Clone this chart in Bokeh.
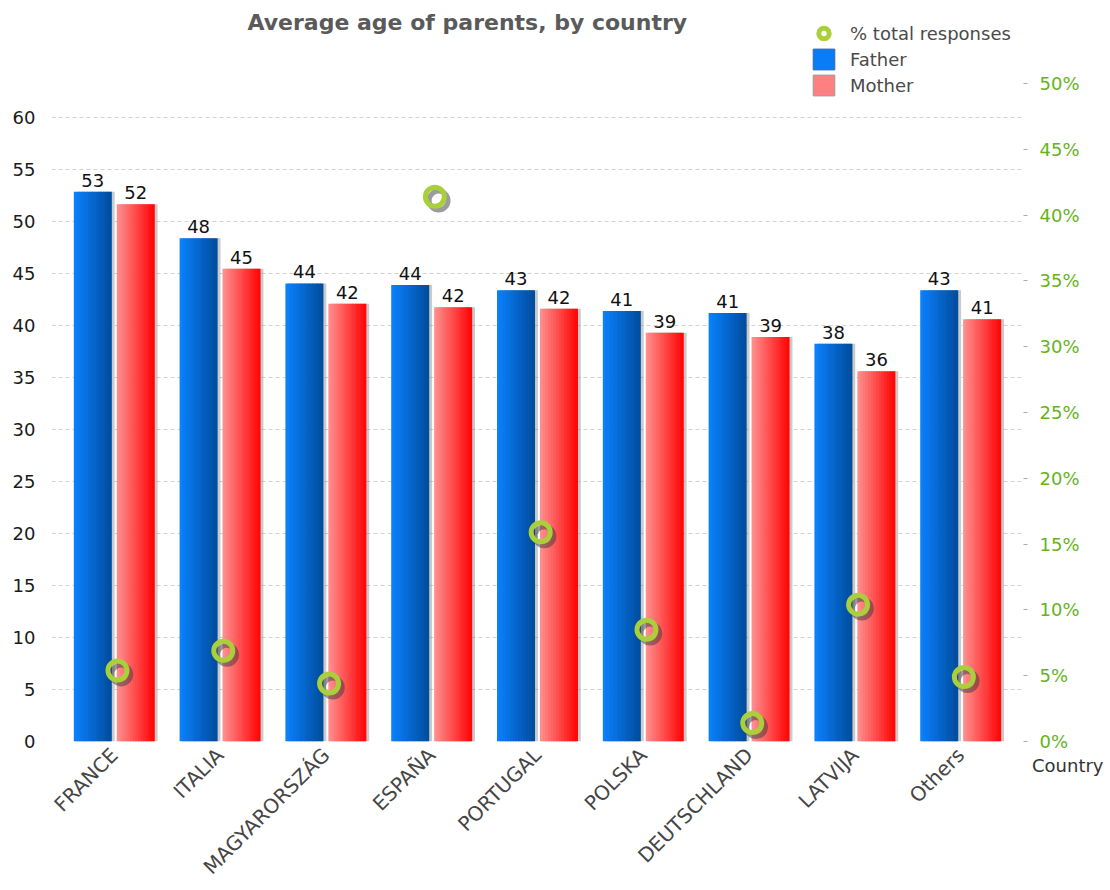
import math
from bokeh.plotting import figure
from bokeh.models import (FactorRange, Range1d, LinearAxis, FixedTicker, NumeralTickFormatter,
                          ColumnDataSource, Label, Legend, LegendItem, Title)
from bokeh.transform import dodge
from bokeh.core.properties import value
from bokeh.embed import file_html
from bokeh.resources import INLINE

# ---------------- data ----------------
countries = ["FRANCE", "ITALIA", "MAGYARORSZÁG", "ESPAÑA", "PORTUGAL",
             "POLSKA", "DEUTSCHLAND", "LATVIJA", "Others"]
father = [52.85, 48.4, 44.05, 43.9, 43.4, 41.4, 41.2, 38.25, 43.4]
mother = [51.65, 45.45, 42.1, 41.75, 41.6, 39.3, 38.9, 35.6, 40.6]
pct_responses = [0.054, 0.069, 0.044, 0.414, 0.159, 0.085, 0.014, 0.104, 0.049]
left_ticks = [0, 5, 10, 15, 20, 25, 30, 35, 40, 45, 50, 55, 60]
right_ticks = [0, 0.05, 0.10, 0.15, 0.20, 0.25, 0.30, 0.35, 0.40, 0.45, 0.50]

title_text = "Average age of parents, by country"
legend_labels = ["% total responses", "Father", "Mother"]
x_title = "Country"

# ---------------- geometry ----------------
W, H = 1110, 890
FL, FR, FT, FB = 51, 1023, 8, 741
left_px_per_unit = 10.4
right_px_per_unit = 1316.0
FONT = "DejaVu Sans"

src = ColumnDataSource(dict(
    country=countries,
    father=father,
    mother=mother,
    pct=pct_responses,
    father_lbl=[str(round(v)) for v in father],
    mother_lbl=[str(round(v)) for v in mother],
))

p = figure(
    width=W, height=H,
    x_range=FactorRange(factors=countries, range_padding=0.0935, range_padding_units="absolute"),
    y_range=Range1d(0, (FB - FT) / left_px_per_unit),
    output_backend="svg", toolbar_location=None,
    min_border_left=FL, min_border_right=W - FR,
    min_border_top=FT, min_border_bottom=H - FB,
)
p.extra_y_ranges = {"pct": Range1d(0, (FB - FT) / right_px_per_unit)}
p.outline_line_color = None
p.background_fill_color = "white"
p.border_fill_color = "white"

# ---------------- axes & grid ----------------
lt = FixedTicker(ticks=left_ticks)
p.yaxis.ticker = lt
p.ygrid.ticker = lt
p.ygrid.grid_line_color = "#d2d2d2"
p.ygrid.grid_line_dash = "4 3"
p.xgrid.grid_line_color = None
p.yaxis.axis_line_color = None
p.yaxis.major_tick_line_color = None
p.yaxis.major_tick_out = 0
p.yaxis.major_tick_in = 0
p.yaxis.minor_tick_line_color = None
p.yaxis.major_label_standoff = 16
p.yaxis.major_label_text_font = FONT
p.yaxis.major_label_text_font_size = "18px"
p.yaxis.major_label_text_color = "#1a1a1a"

# "Country" caption sits right under the frame, to the right of it
cap = Title(text=x_title, align="right", offset=-80, standoff=25,
            vertical_align="middle", text_font=FONT, text_font_size="18px",
            text_font_style="normal", text_color="#333333")
p.below = [cap] + list(p.below)

p.xaxis.axis_line_color = None
p.xaxis.major_tick_line_color = None
p.xaxis.major_tick_out = 0
p.xaxis.major_tick_in = 0
p.xaxis.minor_tick_line_color = None
p.xaxis.major_label_orientation = math.pi / 4
p.xaxis.major_label_standoff = -38
p.xaxis.major_label_text_font = FONT
p.xaxis.major_label_text_font_size = "20px"
p.xaxis.major_label_text_color = "#454545"

raxis = LinearAxis(y_range_name="pct", ticker=FixedTicker(ticks=right_ticks),
                   formatter=NumeralTickFormatter(format="0%"), bounds=(0, 0.5))
raxis.axis_line_color = None
raxis.major_tick_in = 0
raxis.major_tick_out = 4
raxis.major_tick_line_color = "#aaaaaa"
raxis.minor_tick_line_color = None
raxis.major_label_standoff = 12
raxis.major_label_text_font = FONT
raxis.major_label_text_font_size = "18px"
raxis.major_label_text_color = "#66B31A"
p.add_layout(raxis, "right")

# ---------------- bars with horizontal gradient ----------------
def lerp(c0, c1, t):
    return "#%02x%02x%02x" % tuple(int(round(a + (b - a) * t)) for a, b in zip(c0, c1))

N = 14
bar_w = 0.353
strip = bar_w / N
series = [(-0.203, "father", (10, 128, 250), (0, 78, 160)),
          (0.203, "mother", (255, 140, 140), (255, 8, 8))]
for side, col, c0, c1 in series:
    p.vbar(x=dodge("country", side + 0.03, range=p.x_range), top=col, width=bar_w,
           source=src, fill_color="#8a8a8a", fill_alpha=0.45, line_color=None)
    for i in range(N):
        off = side - bar_w / 2 + strip * (i + 0.5)
        p.vbar(x=dodge("country", off, range=p.x_range), top=col, width=strip * 1.25,
               source=src, fill_color=lerp(c0, c1, i / (N - 1)), line_color=None)
    p.text(x=dodge("country", side, range=p.x_range), y=col, text=col + "_lbl", source=src,
           text_align="center", text_baseline="bottom", y_offset=-5,
           text_font=value(FONT), text_font_size="18px", text_color="#111111")

# ---------------- % responses rings ----------------
p.scatter(x=dodge("country", 0.065, range=p.x_range), y=dodge("pct", -0.003),
          y_range_name="pct", source=src, marker="circle", size=19,
          fill_color=None, line_color="#3a3a3a", line_alpha=0.5, line_width=5)
p.scatter(x=dodge("country", 0.03, range=p.x_range), y="pct",
          y_range_name="pct", source=src, marker="circle", size=19,
          fill_color=None, line_color="#A9CF3B", line_width=5)

# ---------------- legend ----------------
dummy = ColumnDataSource(dict(x=[countries[0]], y=[float("nan")]))
r_ring = p.scatter(x="x", y="y", source=dummy, marker="circle", size=19,
                   fill_color=None, line_color="#A9CF3B", line_width=5)
r_f = p.vbar(x="x", top="y", width=0.3, source=dummy, fill_color="#0A7CF5", line_color="#3068b0")
r_m = p.vbar(x="x", top="y", width=0.3, source=dummy, fill_color="#FF8080", line_color="#9a9a9a")
legend = Legend(items=[LegendItem(label=legend_labels[0], renderers=[r_ring]),
                       LegendItem(label=legend_labels[1], renderers=[r_f]),
                       LegendItem(label=legend_labels[2], renderers=[r_m])],
                location=(759, 643), orientation="vertical",
                glyph_width=27, glyph_height=26, label_height=26, spacing=0,
                padding=0, margin=0, label_standoff=13,
                border_line_color=None, background_fill_alpha=0,
                label_text_font=FONT, label_text_font_size="18px",
                label_text_color="#4a4a4a")
p.add_layout(legend)

# ---------------- title ----------------
p.add_layout(Label(x=196, y=FB - 22, x_units="screen", y_units="screen", text=title_text,
                   text_font=FONT, text_font_size="22px", text_font_style="bold",
                   text_color="#5a5a5a", text_baseline="alphabetic"))

open("out.html", "w").write(file_html(p, INLINE))
